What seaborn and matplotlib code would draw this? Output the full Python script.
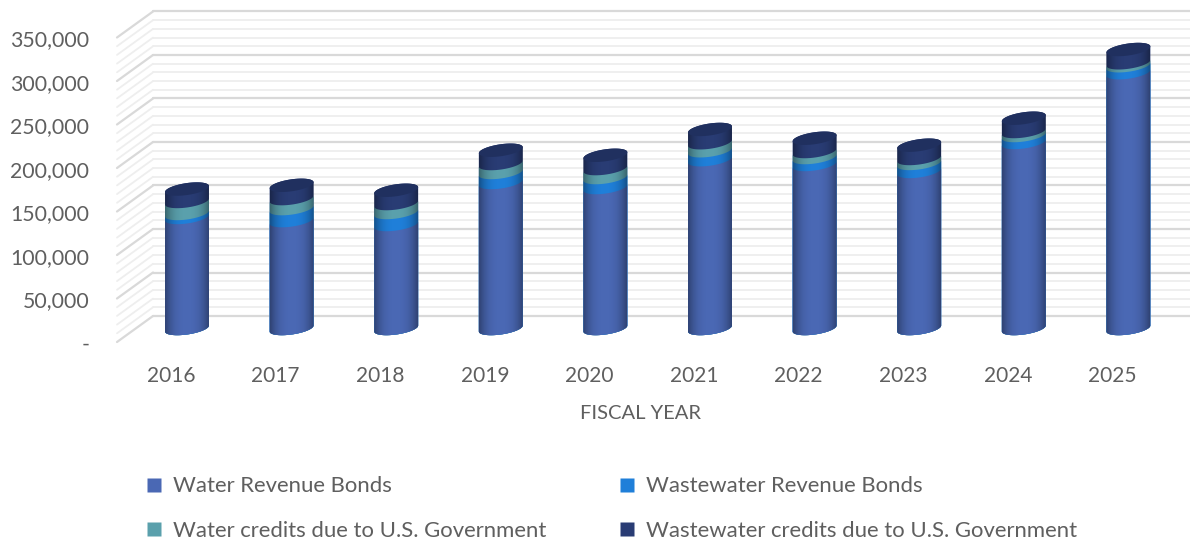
import numpy as np
import pandas as pd
import matplotlib
matplotlib.use("Agg")
import matplotlib.pyplot as plt
from matplotlib.lines import Line2D
from matplotlib.patches import PathPatch
from matplotlib.path import Path
from matplotlib.transforms import ScaledTranslation
import seaborn as sns

years = ["2016", "2017", "2018", "2019", "2020", "2021", "2022", "2023", "2024", "2025"]
water_bonds = [127600, 124000, 119500, 167800, 162000, 194000, 188500, 180500, 213800, 294000]
wastewater_bonds = [4600, 13800, 13800, 11500, 11500, 10300, 8000, 9200, 8000, 8000]
water_credits = [13800, 11500, 10300, 10300, 10300, 9200, 6900, 5700, 4600, 3400]
wastewater_credits = [14300, 15300, 15300, 15300, 15300, 15300, 15300, 15300, 15300, 15300]

series_names = [
    "Water Revenue Bonds",
    "Wastewater Revenue Bonds",
    "Water credits due to U.S. Government",
    "Wastewater credits due to U.S. Government",
]
series_colors = ["#4A68B4", "#1F7FD9", "#5AA0AC", "#293C74"]
top_color = "#20305F"
y_ticks = [0, 50000, 100000, 150000, 200000, 250000, 300000, 350000]
y_labels = ["-", "50,000", "100,000", "150,000", "200,000", "250,000", "300,000", "350,000"]

W, H = 1190, 541
text_color = "#5F5F5F"

# pixels per unit, and where the middle of the 3d floor sits
k = 43.5 / 50000
zero_px = 328.5
slot_px = 104.6
first_px = 187
left_px, right_px, top_px, bottom_px = 117, 1163, 5, 342

sns.set_theme(style="white")
plt.rcParams["font.family"] = ["Lato", "DejaVu Sans"]

fig = plt.figure(figsize=(W / 100, H / 100), dpi=100)
ax = fig.add_axes([left_px / W, (H - bottom_px) / H, (right_px - left_px) / W, (bottom_px - top_px) / H])

df = pd.DataFrame({"year": years})
cum = np.cumsum([water_bonds, wastewater_bonds, water_credits, wastewater_credits], axis=0)

# tallest stack first so the lower parts paint over it
bars = []
for idx in range(3, -1, -1):
    df["total"] = cum[idx]
    before = len(ax.patches)
    sns.barplot(data=df, x="year", y="total", color=series_colors[idx], saturation=1, width=0.42, ax=ax)
    bars.append((idx, ax.patches[before:]))

b = 6 / k
tilt = 3 / k


def arc(cx, a, level, t0, t1):
    t = np.linspace(t0, t1, 50)
    return np.column_stack([cx + a * np.cos(t), level + b * np.sin(t) + tilt * np.cos(t)])


shade = np.zeros((1, 80, 4))
u = np.linspace(-1, 1, 80)
shade[0, :, 3] = 0.36 * np.abs(u) ** 2.6

for idx, patches in bars:
    for p in patches:
        p.set_visible(False)
        a = p.get_width() / 2
        cx = p.get_x() + a
        level = p.get_height()
        base = arc(cx, a, 0, np.pi, 2 * np.pi)
        if idx == 3:
            upper = arc(cx, a, level, 0, np.pi)
        else:
            upper = arc(cx, a, level, 2 * np.pi, np.pi)
        outline = np.vstack([base, upper, base[:1]])
        body = PathPatch(Path(outline), fc=series_colors[idx], ec="none", zorder=3 + (3 - idx) * 0.01)
        ax.add_patch(body)
        if idx == 3:
            # shading over the whole cylinder, then the lid
            sil = PathPatch(Path(outline), fc="none", ec="none", transform=ax.transData)
            ax.add_patch(sil)
            img = ax.imshow(shade, extent=(cx - a, cx + a, -b - tilt, level + b + tilt),
                            aspect="auto", zorder=3.5, interpolation="bilinear")
            img.set_clip_path(sil)
            lid = arc(cx, a, level, 0, 2 * np.pi)
            ax.add_patch(PathPatch(Path(lid), fc=top_color, ec="none", zorder=3.6))

xmin = (left_px - first_px) / slot_px
xmax = (right_px - first_px) / slot_px
ax.set_xlim(xmin, xmax)
ax.set_ylim((zero_px - bottom_px) / k, (zero_px - top_px) / k)

# floor and walls: back wall is up and right of the bars, front edge down and left
back = ax.transData + ScaledTranslation(0, 12.5 / 100, fig.dpi_scale_trans)
x_back = (153 - first_px) / slot_px
x_edge = (W - first_px) / slot_px
x_front = (117 - first_px) / slot_px
for v in range(0, 350001, 10000):
    major = v % 50000 == 0
    col = "#D9D9D9" if major else "#EEEEEE"
    lw = 1.6 if major else 1.3
    ax.plot([x_back, x_edge], [v, v], color=col, lw=lw, transform=back, clip_on=False, zorder=1 if major else 0.9)
    ax.plot([x_front, x_back], [v - 13.5 / k, v + 12.5 / k], color=col, lw=lw, clip_on=False, zorder=1 if major else 0.9)

ax.set_yticks(y_ticks)
ax.set_yticklabels(y_labels)
ax.set_ylabel("")
ax.set_xlabel("FISCAL YEAR", fontsize=14.5, color=text_color, labelpad=14)
ax.tick_params(axis="y", length=0, pad=20, labelsize=15.3, labelcolor=text_color)
ax.tick_params(axis="x", length=0, pad=17, labelsize=15, labelcolor=text_color)
for lab in ax.get_yticklabels():
    lab.set_transform(lab.get_transform() + ScaledTranslation(0, -14.5 / 100, fig.dpi_scale_trans))
for lab in ax.get_xticklabels():
    lab.set_transform(lab.get_transform() + ScaledTranslation(-16 / 100, 0, fig.dpi_scale_trans))
sns.despine(ax=ax, left=True, bottom=True)

order = [0, 2, 1, 3]
handles = [
    Line2D([], [], marker="s", ls="none", ms=9.5, mfc=series_colors[i], mec="none", label=series_names[i])
    for i in order
]
fig.legend(handles=handles, ncol=2, frameon=False, fontsize=15.9, labelcolor=text_color,
           loc="lower left", bbox_to_anchor=(143 / W, 0 / H), borderaxespad=0, borderpad=0,
           handlelength=1, labelspacing=1.12, columnspacing=3.15, handletextpad=0.35)

fig.savefig("out.png", dpi=100)
